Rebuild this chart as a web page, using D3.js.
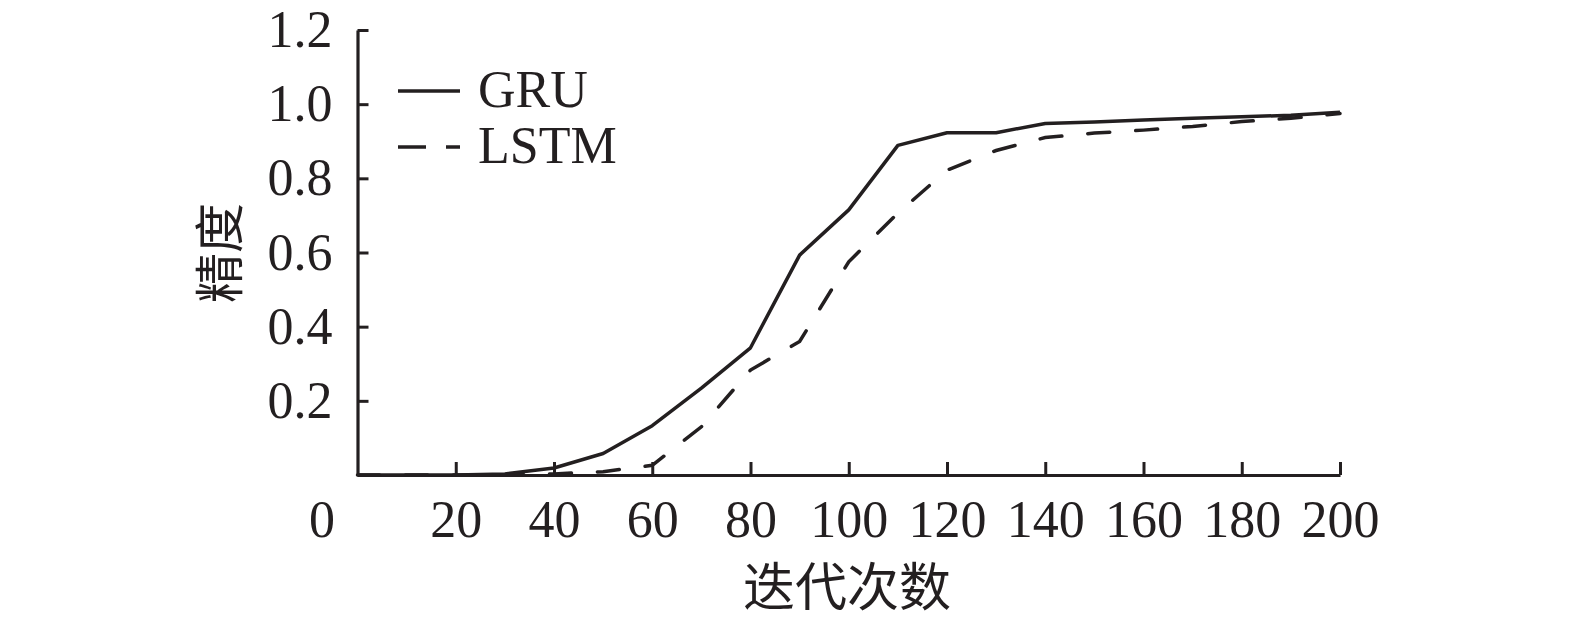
<!DOCTYPE html>
<html>

<head>
  <meta charset="utf-8">
  <title>GRU vs LSTM</title>
  <style>
    body { margin: 0; background: #fff; }
    text { fill: #231f20; }
  </style>
</head>

<body>
  <svg id="svg"></svg>

  <script src="https://d3js.org/d3.v7.min.js"></script>

  <script>
    // iterations (x) and accuracy values
    let iterations = [0, 10, 20, 30, 40, 50, 60, 70, 80, 90, 100, 110, 120, 130, 140, 150, 160, 170, 180, 190, 200];
    let gru = [0, 0, 0, 0.003, 0.019, 0.058, 0.133, 0.234, 0.343, 0.593, 0.715, 0.889, 0.923, 0.923, 0.948, 0.952, 0.957, 0.962, 0.966, 0.970, 0.978];
    let lstm = [0, 0, 0, 0, 0.003, 0.009, 0.026, 0.130, 0.283, 0.360, 0.575, 0.706, 0.822, 0.875, 0.910, 0.922, 0.930, 0.940, 0.953, 0.962, 0.975];

    let seriesNames = ["GRU", "LSTM"];
    let xTicks = [0, 20, 40, 60, 80, 100, 120, 140, 160, 180, 200];
    let yTicks = [0.2, 0.4, 0.6, 0.8, 1.0, 1.2];
    let xTitle = "迭代次数";
    let yTitle = "精度";

    let width = 1575, height = 636;
    let ink = "#231f20";
    let latin = "'Liberation Serif', 'Times New Roman', serif";
    let cjk = "'Noto Sans CJK SC', sans-serif";

    let svg = d3.select("#svg")
      .attr("width", width)
      .attr("height", height);

    let xScale = d3.scaleLinear().domain([0, 200]).range([357.5, 1340]);
    let yScale = d3.scaleLinear().domain([0, 1.2]).range([475, 30]);

    // y axis: ticks point inward, labels on the left
    let yAxis = svg.append("g")
      .attr("transform", `translate(${xScale(0)}, 0)`)
      .call(d3.axisLeft(yScale)
        .tickValues(yTicks)
        .tickSizeInner(-11)
        .tickSizeOuter(0)
        .tickPadding(25)
        .tickFormat(d3.format(".1f")));

    // x axis: ticks point up
    let xAxis = svg.append("g")
      .attr("transform", `translate(0, ${yScale(0)})`)
      .call(d3.axisBottom(xScale)
        .tickValues(xTicks)
        .tickSizeInner(-13)
        .tickSizeOuter(0)
        .tickPadding(25)
        .tickFormat(d3.format("d")));

    [xAxis, yAxis].forEach(ax => {
      ax.select(".domain").attr("stroke", ink).attr("stroke-width", 3.2);
      ax.selectAll(".tick line").attr("stroke", ink).attr("stroke-width", 3);
      ax.selectAll(".tick text")
        .attr("font-family", latin)
        .attr("font-size", 52)
        .attr("fill", ink);
    });

    // the "0" sits to the left of the origin and has no tick mark
    xAxis.selectAll(".tick").filter(d => d === 0).each(function () {
      d3.select(this).select("line").remove();
      d3.select(this).select("text").attr("x", -36);
    });

    let line = d3.line()
      .x((d, i) => xScale(iterations[i]))
      .y(d => yScale(d));

    svg.append("path")
      .datum(gru)
      .attr("fill", "none")
      .attr("stroke", ink)
      .attr("stroke-width", 3.5)
      .attr("stroke-linejoin", "round")
      .attr("d", line);

    svg.append("path")
      .datum(lstm)
      .attr("fill", "none")
      .attr("stroke", ink)
      .attr("stroke-width", 3.5)
      .attr("stroke-linecap", "round")
      .attr("stroke-dasharray", "22,26")
      .attr("d", line);

    // legend
    let legend = svg.append("g").attr("transform", "translate(398, 91)");
    seriesNames.forEach((name, i) => {
      let g = legend.append("g").attr("transform", `translate(0, ${i * 56})`);
      g.append("line")
        .attr("x1", 0).attr("x2", 62)
        .attr("y1", 0).attr("y2", 0)
        .attr("stroke", ink)
        .attr("stroke-width", 3.5)
        .attr("stroke-dasharray", i === 1 ? "28,20" : null);
      g.append("text")
        .attr("x", 80)
        .attr("y", 16)
        .attr("font-family", latin)
        .attr("font-size", 52)
        .text(name);
    });

    // axis titles
    svg.append("text")
      .attr("x", 847)
      .attr("y", 606)
      .attr("text-anchor", "middle")
      .attr("font-family", cjk)
      .attr("font-size", 52)
      .text(xTitle);

    svg.append("text")
      .attr("transform", "translate(238, 253) rotate(-90)")
      .attr("text-anchor", "middle")
      .attr("font-family", cjk)
      .attr("font-size", 50)
      .text(yTitle);
  </script>
</body>

</html>
